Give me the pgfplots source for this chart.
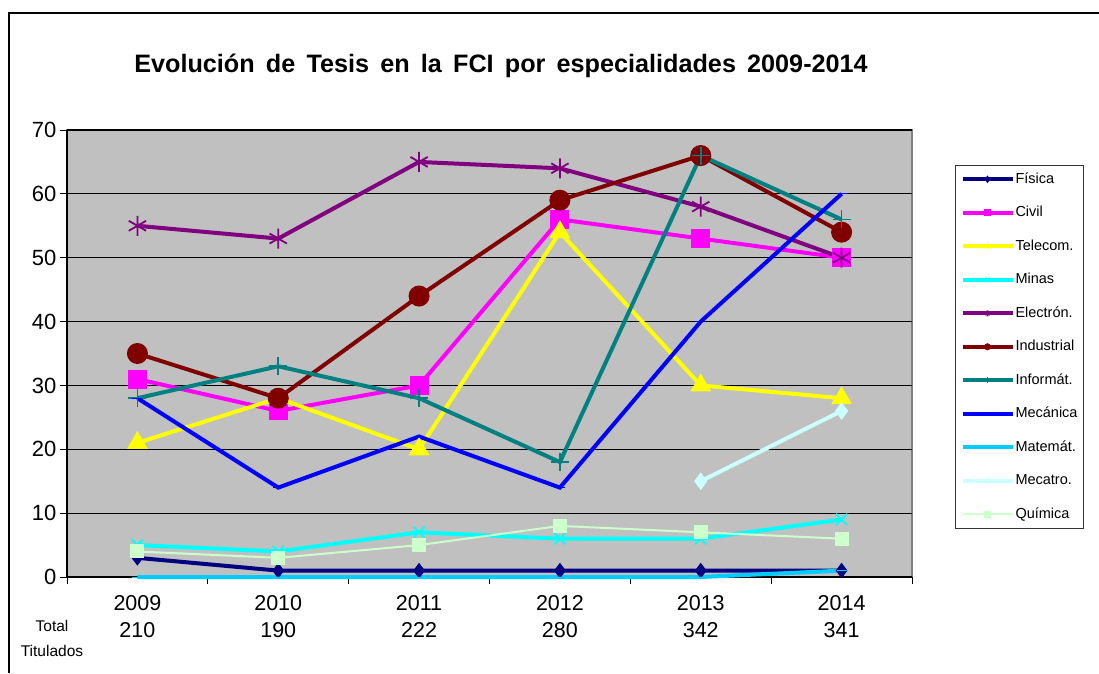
\documentclass[border=0pt]{standalone}
\usepackage{pgfplots}
\pgfplotsset{compat=1.18}
\usepackage{fontspec}
\setmainfont{Liberation Sans}

\definecolor{fisica}{HTML}{000080}
\definecolor{civil}{HTML}{FF00FF}
\definecolor{telecom}{HTML}{FFFF00}
\definecolor{minas}{HTML}{00FFFF}
\definecolor{electron}{HTML}{800080}
\definecolor{industrial}{HTML}{800000}
\definecolor{informat}{HTML}{008080}
\definecolor{mecanica}{HTML}{0000FF}
\definecolor{matemat}{HTML}{00CCFF}
\definecolor{mecatro}{HTML}{CCFFFF}
\definecolor{quimica}{HTML}{CCFFCC}
\definecolor{plotbg}{HTML}{C0C0C0}

\begin{document}
\begin{tikzpicture}
\path[use as bounding box] (0,0) rectangle (1099pt,673pt);
\draw[line width=2.5pt] (9pt,0) -- (9pt,660pt) -- (1099pt,660pt);
\node[font=\bfseries\fontsize{25.2}{29}\selectfont] at (501pt,607pt) {Evolución\, de\, Tesis\, en\, la\, FCI\, por\, especialidades\, 2009-2014};
\node[font=\fontsize{15.5}{18}\selectfont] at (52pt,47pt) {Total};
\node[font=\fontsize{15.5}{18}\selectfont] at (52pt,22pt) {Titulados};

\begin{axis}[
    at={(67pt,96pt)}, anchor=south west,
    scale only axis,
    width=845pt, height=447pt,
    xmin=-0.5, xmax=5.5,
    ymin=0, ymax=70,
    ytick={0,10,...,70},
    xtick={-0.5,0.5,...,5.5},
    xticklabels={},
    extra x ticks={0,1,2,3,4,5},
    extra x tick labels={{2009\\210},{2010\\190},{2011\\222},{2012\\280},{2013\\342},{2014\\341}},
    extra x tick style={major tick length=0pt, tick label style={align=center, font=\fontsize{21.5}{27}\selectfont, yshift=-15pt}},
    axis x line*=bottom, axis y line*=left,
    axis line style={-, black, line width=1.2pt},
    tick align=outside, major tick length=7pt,
    tick style={black, line width=1pt},
    ymajorgrids, grid style={black, line width=1.2pt},
    axis background/.style={fill=plotbg, draw=gray, line width=1.5pt},
    tick label style={font=\fontsize{22}{26}\selectfont},
    /pgf/number format/assume math mode=true,
    legend style={at={(1.051,0.922)}, anchor=north west, draw=black!80, line width=0.8pt,
        font=\fontsize{14.5}{16}\selectfont, row sep=17.5pt, inner xsep=5pt, inner ysep=6pt,
        nodes={inner sep=1pt, text height=11pt, text depth=3pt}},
    legend cell align=left,
    legend image code/.code={\draw[mark repeat=2,mark phase=2, mark size=3pt] plot coordinates {(0pt,0pt)(25pt,0pt)(50pt,0pt)};},
    clip=false,
]
\addplot[color=fisica, line width=4pt, mark=diamond*, mark size=7pt, mark options={solid, line width=1pt}]
    coordinates {(0,3)(1,1)(2,1)(3,1)(4,1)(5,1)};
\addplot[color=civil, line width=4pt, mark=square*, mark size=9pt, mark options={line width=1pt}]
    coordinates {(0,31)(1,26)(2,30)(3,56)(4,53)(5,50)};
\addplot[color=telecom, line width=4pt, mark=triangle*, mark size=11pt, mark options={line width=1pt}]
    coordinates {(0,21)(1,28)(2,20)(3,54)(4,30)(5,28)};
\addplot[color=minas, line width=4pt, mark=x, mark size=8pt, mark options={line width=1.8pt}]
    coordinates {(0,5)(1,4)(2,7)(3,6)(4,6)(5,9)};
\addplot[color=electron, line width=4pt, mark=asterisk, mark size=10pt, mark options={line width=1.8pt}]
    coordinates {(0,55)(1,53)(2,65)(3,64)(4,58)(5,50)};
\addplot[color=industrial, line width=4pt, mark=*, mark size=10pt, mark options={line width=1pt}]
    coordinates {(0,35)(1,28)(2,44)(3,59)(4,66)(5,54)};
\addplot[color=informat, line width=4pt, mark=+, mark size=9pt, mark options={line width=1.8pt}]
    coordinates {(0,28)(1,33)(2,28)(3,18)(4,66)(5,56)};
\addplot[color=mecanica, line width=4pt, mark=-, mark size=5pt, mark options={line width=1pt}]
    coordinates {(0,28)(1,14)(2,22)(3,14)(4,40)(5,60)};
\addplot[color=matemat, line width=4pt, mark=-, mark size=5pt, mark options={line width=1pt}]
    coordinates {(0,0)(1,0)(2,0)(3,0)(4,0)(5,1)};
\addplot[color=mecatro, line width=4pt, mark=diamond*, mark size=8pt, mark options={line width=1pt}]
    coordinates {(4,15)(5,26)};
\addplot[color=quimica, line width=2pt, mark=square*, mark size=6.5pt, mark options={line width=1pt}]
    coordinates {(0,4)(1,3)(2,5)(3,8)(4,7)(5,6)};
\legend{Física,Civil,Telecom.,Minas,Electrón.,Industrial,Informát.,Mecánica,Matemát.,Mecatro.,Química}
\end{axis}
\end{tikzpicture}
\end{document}
